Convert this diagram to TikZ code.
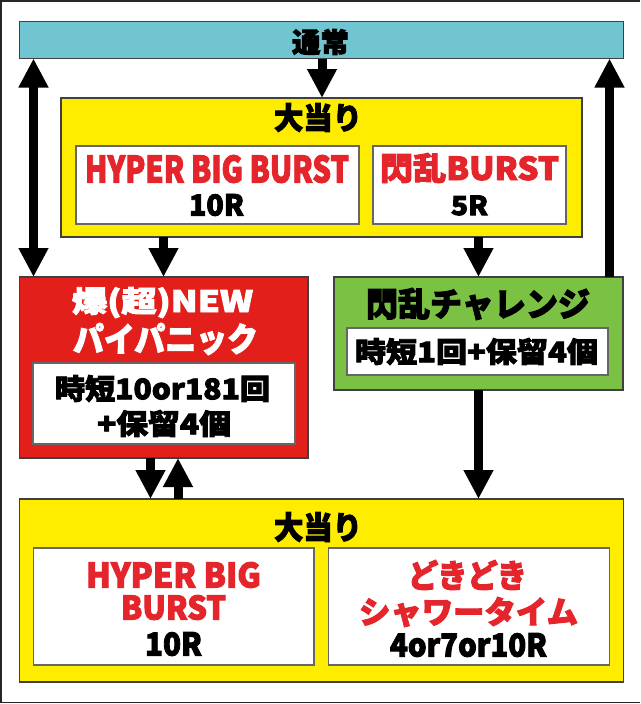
\documentclass[tikz,border=0pt]{standalone}
\usepackage{fontspec}
\usepackage{graphicx}
\setmainfont{Noto Sans CJK JP}[BoldFeatures={FakeBold=3}]
\usetikzlibrary{arrows.meta}
\definecolor{teal1}{HTML}{71C5D1}
\definecolor{yel}{HTML}{FFED00}
\definecolor{redbox}{HTML}{E31F1B}
\definecolor{grn}{HTML}{7BC144}
\definecolor{redtxt}{HTML}{E4262C}
\newcommand{\fittext}[3]{\resizebox*{#1pt}{#2pt}{\bfseries #3}}
\tikzset{
  box/.style={draw=black!75, line width=1.1pt, inner sep=0pt, outer sep=0pt, rectangle},
  wbox/.style={draw=black!60, line width=1.1pt, fill=white, inner sep=0pt, outer sep=0pt, rectangle},
  txt/.style={inner sep=0pt, outer sep=0pt, anchor=center},
  arr/.style={line width=9pt, -{Triangle[width=28pt,length=29pt]}},
  darr/.style={line width=9pt, {Triangle[width=28pt,length=29pt]}-{Triangle[width=28pt,length=29pt]}}
}
\begin{document}
\begin{tikzpicture}[x=1pt,y=-1pt]
\useasboundingbox (0,0) rectangle (640,704);
% outer frame
\draw[line width=1.5pt, black!85] (640,1) -- (1,1) -- (1,702.5) -- (640,702.5);

% boxes
\node[box, fill=teal1, minimum width=603.7pt, minimum height=36.8pt] (tsujo) at (321.45,40.1) {};
\node[box, fill=yel, minimum width=521pt, minimum height=139pt] (hit1) at (321.5,167.5) {};
\node[wbox, minimum width=283pt, minimum height=78pt] (hbb1) at (217.5,185) {};
\node[wbox, minimum width=193pt, minimum height=78pt] (sb) at (469.5,185) {};
\node[box, fill=redbox, minimum width=288.4pt, minimum height=181pt] (bak) at (163.8,367.5) {};
\node[wbox, minimum width=262pt, minimum height=81pt] (bakin) at (164,403.5) {};
\node[box, fill=grn, minimum width=289pt, minimum height=113pt] (sen) at (478.5,333.5) {};
\node[wbox, minimum width=261pt, minimum height=47pt] (senin) at (477.5,351.5) {};
\node[box, fill=yel, minimum width=603.7pt, minimum height=183pt] (hit2) at (321.45,590.5) {};
\node[wbox, minimum width=280.5pt, minimum height=117pt] (hbb2) at (173.75,606.5) {};
\node[wbox, minimum width=280.7pt, minimum height=117pt] (doki) at (468.95,606.5) {};

% texts
\node[txt] (t1) at (320.5,42) {\fittext{57}{26}{通常}};
\node[txt] (t2) at (318,117.5) {\fittext{88}{29}{大当り}};
\node[txt, text=redtxt] (t3) at (217,169) {\fittext{264}{28}{HYPER BIG BURST}};
\node[txt] (t4) at (216.5,205) {\fittext{55}{22}{10R}};
\node[txt, text=redtxt] (t5) at (469.5,168) {\fittext{179}{30}{閃乱BURST}};
\node[txt] (t6) at (469.5,205.5) {\fittext{37}{20}{5R}};
\node[txt, text=white] (t7) at (162.5,302.5) {\fittext{181}{31}{爆(超)NEW}};
\node[txt, text=white] (t8) at (165.5,339) {\fittext{185}{32}{パイパニック}};
\node[txt] (t9) at (162.5,388.5) {\fittext{215}{27}{時短10or181回}};
\node[txt] (t10) at (164,423.5) {\fittext{134}{27}{+保留4個}};
\node[txt] (t11) at (478,304) {\fittext{224}{32}{閃乱チャレンジ}};
\node[txt] (t12) at (476.5,351.5) {\fittext{243}{27}{時短1回+保留4個}};
\node[txt] (t13) at (318,527) {\fittext{88}{30}{大当り}};
\node[txt, text=redtxt] (t14) at (173.5,575) {\fittext{175}{26}{HYPER BIG}};
\node[txt, text=redtxt] (t15) at (173.5,607.5) {\fittext{105}{25}{BURST}};
\node[txt] (t16) at (173.5,644) {\fittext{57}{24}{10R}};
\node[txt, text=redtxt] (t17) at (467.5,575) {\fittext{119}{30}{どきどき}};
\node[txt, text=redtxt] (t18) at (468.5,612) {\fittext{219}{30}{シャワータイム}};
\node[txt] (t19) at (468.5,645) {\fittext{157}{24}{4or7or10R}};

% x positions of connectors
\coordinate (xL) at (33.5,0);
\coordinate (xC) at (322,0);
\coordinate (xR) at (609.5,0);
\coordinate (xA) at (163.5,0);
\coordinate (xG) at (478.5,0);
\coordinate (xD) at (150.5,0);
\coordinate (xU) at (178,0);

% connectors
\draw[arr] (tsujo.south -| xC) -- (hit1.north -| xC);
\draw[darr] (tsujo.south -| xL) -- (bak.north -| xL);
\draw[arr] (sen.north -| xR) -- (tsujo.south -| xR);
\draw[arr] (hit1.south -| xA) -- (bak.north -| xA);
\draw[arr] (hit1.south -| xG) -- (sen.north -| xG);
\draw[arr] (sen.south -| xG) -- (hit2.north -| xG);
\draw[arr] (bak.south -| xD) -- (hit2.north -| xD);
\draw[arr] (hit2.north -| xU) -- (bak.south -| xU);
\end{tikzpicture}
\end{document}
